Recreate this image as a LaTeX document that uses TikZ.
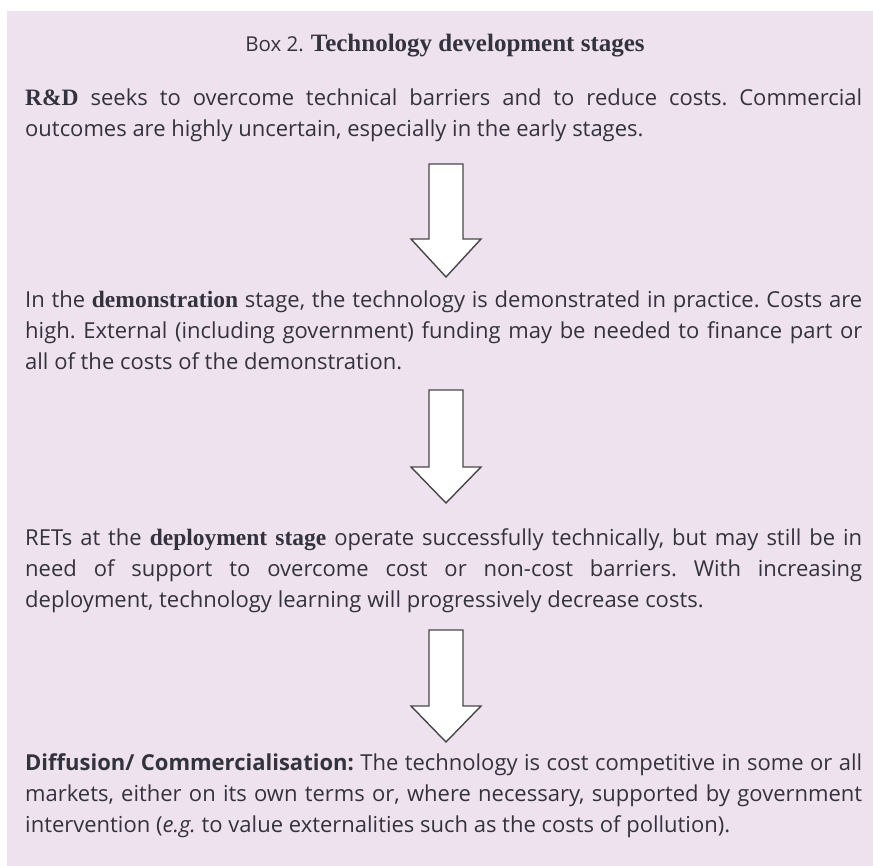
\documentclass[tikz,border=0pt]{standalone}
\usepackage{fontspec}
\setmainfont{Open Sans}
\newfontfamily\serifbf{Liberation Serif}[BoldFont={Liberation Serif Bold}]
\usepackage{tikz}
\usetikzlibrary{calc}
\definecolor{boxpink}{HTML}{EFE2EF}
\definecolor{txt}{HTML}{33333D}
\definecolor{arrowline}{HTML}{474747}
\tikzstyle{para}=[anchor=base west,inner sep=0,text width=837pt,align=justify,
  text=txt,font=\fontsize{22}{31}\selectfont\frenchspacing]
\tikzstyle{blockarrow}=[draw=arrowline,fill=white,line width=1.4pt,line join=miter]
\newcommand{\stagebf}[1]{{\serifbf\bfseries\fontsize{23.5}{31}\selectfont #1}}

\begin{document}
\begin{tikzpicture}[x=1pt,y=-1pt]
        \useasboundingbox (0,0) rectangle (873,866);
        \fill[white] (0,0) rectangle (873,866);
        \fill[boxpink] (7,11) rectangle (873,866);

        \node[text=txt,inner sep=0,anchor=base,font=\fontsize{20.5}{31}\selectfont] (title) at (445,52)
          {Box 2. {\serifbf\bfseries\fontsize{25}{31}\selectfont Technology development stages}};

        \node[para] (rd) at (25,106) {\stagebf{R\&D} seeks to overcome technical barriers and to reduce costs. Commercial\linebreak
          outcomes are highly uncertain, especially in the early stages.};
        \node[para] (demo) at (25,308) {In the \stagebf{demonstration} stage, the technology is demonstrated in practice. Costs are\linebreak
          high. External (including government) funding may be needed to finance part or\linebreak
          all of the costs of the demonstration.};
        \node[para] (deploy) at (25,545) {RETs at the \stagebf{deployment stage} operate successfully technically, but may still be in\linebreak
          need of support to overcome cost or non-cost barriers. With increasing\linebreak
          deployment, technology learning will progressively decrease costs.};
        \node[para] (diffusion) at (25,770) {\textbf{Diffusion/ Commercialisation:} The technology is cost competitive in some or all\linebreak
          markets, either on its own terms or, where necessary, supported by government\linebreak
          intervention (\textit{e.g.} to value externalities such as the costs of pollution).};

        % block arrows between the stages
        \foreach \n/\top/\neck/\tip in {a/164/239/277,b/390/467/503,c/630/706/742}{
          \coordinate (arr\n) at (446,\top);
          \draw[blockarrow] ($(arr\n)+(-17,0)$) -- ($(arr\n)+(17,0)$) -- (463,\neck) -- (481,\neck)
            -- (446,\tip) -- (411,\neck) -- (429,\neck) -- cycle;
        }
\end{tikzpicture}
\end{document}
